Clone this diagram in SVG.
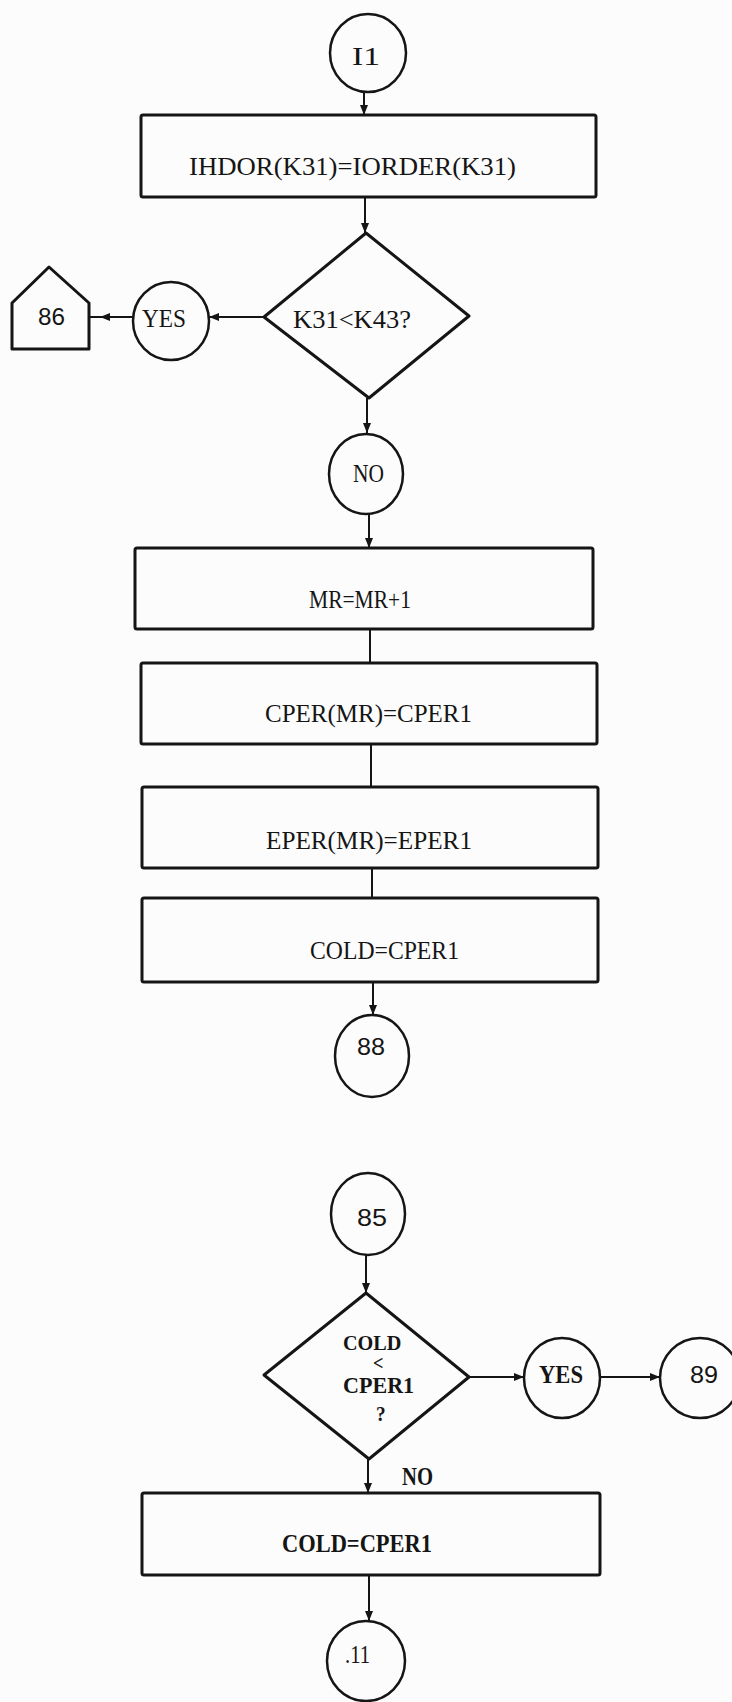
<svg xmlns="http://www.w3.org/2000/svg" width="732" height="1702" viewBox="0 0 732 1702">
<style>
.bg{fill:#fcfcfc}
.box{fill:none;stroke:#151515;stroke-width:3;stroke-linejoin:round}
.circ{fill:none;stroke:#151515;stroke-width:2.5}
.conn{fill:none;stroke:#151515;stroke-width:2}
.t{font-family:"Liberation Serif",serif;font-size:26px;fill:#151515}
.n{font-family:"Liberation Sans",sans-serif;font-size:24px;fill:#151515}
.b{font-weight:bold}
</style>
<defs>
<marker id="ah" markerUnits="userSpaceOnUse" markerWidth="10" markerHeight="8" refX="10" refY="4" orient="auto">
<path d="M0,0 L10,4 L0,8 z" fill="#151515"/>
</marker>
</defs>
<rect class="bg" x="0" y="0" width="732" height="1702"/>
<g id="connectors">
<path class="conn" d="M364,92 L364,115" marker-end="url(#ah)"/>
<path class="conn" d="M365,197 L365,233" marker-end="url(#ah)"/>
<path class="conn" d="M264,317 L209,317" marker-end="url(#ah)"/>
<path class="conn" d="M133,317 L100,317 L89,317" marker-mid="url(#ah)"/>
<path class="conn" d="M367,398 L367,433" marker-end="url(#ah)"/>
<path class="conn" d="M369,514 L369,548" marker-end="url(#ah)"/>
<path class="conn" d="M370,629 L370,663"/>
<path class="conn" d="M371,744 L371,787"/>
<path class="conn" d="M372,868 L372,898"/>
<path class="conn" d="M373,982 L373,1015" marker-end="url(#ah)"/>
<path class="conn" d="M366,1255 L366,1293" marker-end="url(#ah)"/>
<path class="conn" d="M469,1377 L524,1377" marker-end="url(#ah)"/>
<path class="conn" d="M600,1377 L660,1377" marker-end="url(#ah)"/>
<path class="conn" d="M368,1459 L368,1493" marker-end="url(#ah)"/>
<path class="conn" d="M369,1575 L369,1621" marker-end="url(#ah)"/>
</g>
<g id="n_I1">
<ellipse class="circ" cx="368" cy="53" rx="38" ry="39"/>
<text class="t" x="352" y="65" textLength="28" lengthAdjust="spacingAndGlyphs">I1</text>
</g>
<g id="n_ihdor">
<rect class="box" x="141" y="115" width="455" height="82" rx="2"/>
<text class="t" x="189" y="175" textLength="327" lengthAdjust="spacingAndGlyphs">IHDOR(K31)=IORDER(K31)</text>
</g>
<g id="n_dec1">
<polygon class="box" points="366,233 469,316 369,398 264,317"/>
<text class="t" x="293" y="328" font-size="24" textLength="118" lengthAdjust="spacingAndGlyphs">K31&lt;K43?</text>
</g>
<g id="n_yes1">
<ellipse class="circ" cx="171" cy="321" rx="38" ry="39"/>
<text class="t" x="142" y="327" font-size="24" textLength="44" lengthAdjust="spacingAndGlyphs">YES</text>
</g>
<g id="n_86">
<polygon class="box" points="49,267 89,303 89,349 12,349 12,303"/>
<text class="n" x="38" y="325" textLength="27" lengthAdjust="spacingAndGlyphs">86</text>
</g>
<g id="n_no1">
<ellipse class="circ" cx="366" cy="474" rx="37" ry="40"/>
<text class="t" x="353" y="482" font-size="24" textLength="31" lengthAdjust="spacingAndGlyphs">NO</text>
</g>
<g id="n_mr">
<rect class="box" x="135" y="548" width="458" height="81" rx="2"/>
<text class="t" x="309" y="608" textLength="102" lengthAdjust="spacingAndGlyphs">MR=MR+1</text>
</g>
<g id="n_cper">
<rect class="box" x="141" y="663" width="456" height="81" rx="2"/>
<text class="t" x="265" y="722" textLength="207" lengthAdjust="spacingAndGlyphs">CPER(MR)=CPER1</text>
</g>
<g id="n_eper">
<rect class="box" x="142" y="787" width="456" height="81" rx="2"/>
<text class="t" x="266" y="849" textLength="206" lengthAdjust="spacingAndGlyphs">EPER(MR)=EPER1</text>
</g>
<g id="n_cold1">
<rect class="box" x="142" y="898" width="456" height="84" rx="2"/>
<text class="t" x="310" y="959" textLength="149" lengthAdjust="spacingAndGlyphs">COLD=CPER1</text>
</g>
<g id="n_88">
<ellipse class="circ" cx="372" cy="1056" rx="37" ry="41"/>
<text class="n" x="357" y="1055" textLength="28" lengthAdjust="spacingAndGlyphs">88</text>
</g>
<g id="n_85">
<ellipse class="circ" cx="368" cy="1214" rx="37" ry="41"/>
<text class="n" x="357" y="1226" textLength="30" lengthAdjust="spacingAndGlyphs">85</text>
</g>
<g id="n_dec2">
<polygon class="box" points="366,1293 469,1377 369,1459 264,1375"/>
<text class="t b" font-size="22" transform="translate(343,0) scale(0.92,1) translate(-343,0)"><tspan x="343" y="1350" font-size="22">COLD</tspan><tspan x="375.5" y="1370" font-size="20">&lt;</tspan><tspan x="343" y="1393" font-size="24">CPER1</tspan><tspan x="379" y="1421" font-size="21">?</tspan></text>
</g>
<g id="n_yes2">
<ellipse class="circ" cx="562" cy="1378" rx="38" ry="40"/>
<text class="t b" x="539" y="1383" font-size="24" textLength="44" lengthAdjust="spacingAndGlyphs">YES</text>
</g>
<g id="n_89">
<ellipse class="circ" cx="700" cy="1378" rx="40" ry="40"/>
<text class="n" x="690" y="1383" textLength="28" lengthAdjust="spacingAndGlyphs">89</text>
</g>
<g id="n_nolabel">
<text class="t b" x="402" y="1485" font-size="24" textLength="31" lengthAdjust="spacingAndGlyphs">NO</text>
</g>
<g id="n_cold2">
<rect class="box" x="142" y="1493" width="458" height="82" rx="2"/>
<text class="t b" x="282" y="1552" textLength="150" lengthAdjust="spacingAndGlyphs">COLD=CPER1</text>
</g>
<g id="n_J1">
<ellipse class="circ" cx="366" cy="1661" rx="39" ry="40"/>
<text class="t" x="345" y="1663" font-size="16" textLength="25" lengthAdjust="spacingAndGlyphs">.11</text>
</g>
</svg>
